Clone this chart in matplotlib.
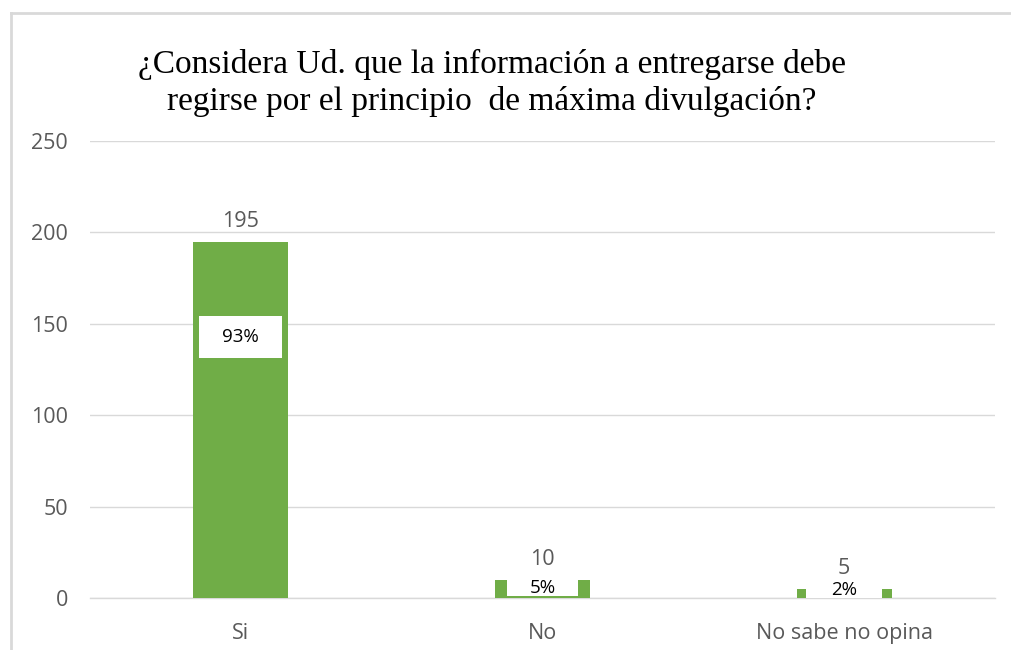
import matplotlib
matplotlib.use("Agg")
import matplotlib.pyplot as plt
from matplotlib.patches import Rectangle
from matplotlib.lines import Line2D

categories = ["Si", "No", "No sabe no opina"]
counts = [195, 10, 5]
percents = ["93%", "5%", "2%"]
y_ticks = [0, 50, 100, 150, 200, 250]
title = "¿Considera Ud. que la información a entregarse debe\nregirse por el principio  de máxima divulgación?"

# label box layout (data units)
pct_center_y = [143, 5.6, 4.6]
pct_box_h = [23, 9.0, 9.4]
pct_box_w = [0.275, 0.238, 0.25]

W, H = 1011, 650
fig = plt.figure(figsize=(W / 100, H / 100), dpi=100)
ax = fig.add_axes([90 / W, 1 - 598 / H, (995 - 90) / W, (598 - 141) / H])

green = "#70AD47"
grid = "#D9D9D9"
gray = "#595959"
tfont = "Open Sans"

x = list(range(len(categories)))
bars = ax.bar(x, counts, width=0.315, color=green, zorder=2)

ax.set_xlim(-0.5, len(categories) - 0.5)
ax.set_ylim(0, 250)
ax.set_yticks(y_ticks)
ax.set_xticks(x)
ax.set_xticklabels(categories)
ax.yaxis.grid(True, color=grid, linewidth=1, zorder=0)
ax.set_axisbelow(True)
for s in ["top", "right", "left"]:
    ax.spines[s].set_visible(False)
ax.spines["bottom"].set_color(grid)
ax.spines["bottom"].set_linewidth(1)
ax.spines["bottom"].set_zorder(1)
ax.tick_params(axis="both", length=0, colors=gray, labelsize=15.5)
ax.tick_params(axis="y", pad=16)
ax.tick_params(axis="x", pad=18)
for lab in ax.get_xticklabels() + ax.get_yticklabels():
    lab.set_fontfamily(tfont)

for xi, c in zip(x, counts):
    ax.annotate(str(c), (xi, c), xytext=(0, 7), textcoords="offset points",
                ha="center", va="bottom", fontsize=15.5, color=gray, family=tfont)

for xi, p, cy, bh, bw in zip(x, percents, pct_center_y, pct_box_h, pct_box_w):
    ax.add_patch(Rectangle((xi - bw / 2, cy - bh / 2), bw, bh, facecolor="white",
                           edgecolor="none", zorder=3, clip_on=False))
    ax.text(xi, cy, p, ha="center", va="center", fontsize=13.5, color="black",
            family=tfont, zorder=4)

fig.text(492 / W, 1 - 83 / H, title, ha="center", va="center", fontsize=24,
         family="Liberation Serif", linespacing=1.22, color="black")

fig.add_artist(Line2D([11 / W, 11 / W], [0, 1 - 13 / H], color=grid, linewidth=2))
fig.add_artist(Line2D([11 / W, 1], [1 - 13 / H, 1 - 13 / H], color=grid, linewidth=2))

fig.savefig("out.png", dpi=100)
